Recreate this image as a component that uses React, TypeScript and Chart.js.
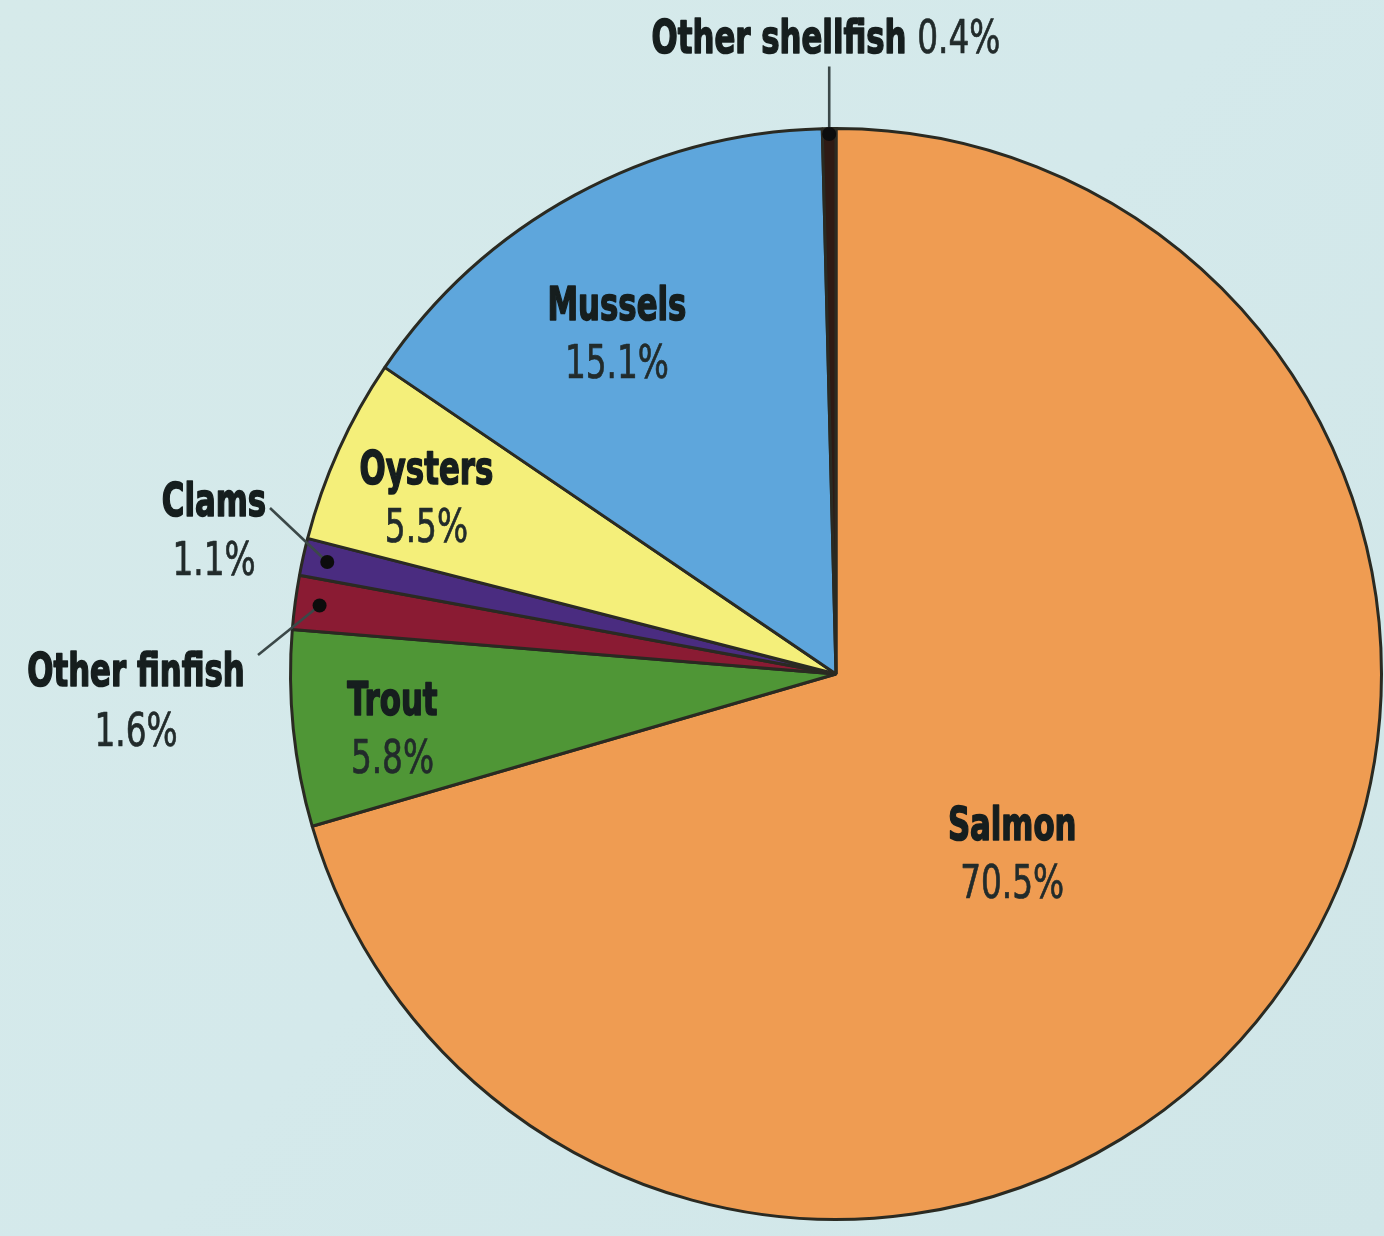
import React, { useEffect, useRef } from "react";
import { Chart, registerables } from "chart.js";

Chart.register(...registerables);

// Share of aquaculture production by species group (%)
const categories = ["Salmon", "Trout", "Other finfish", "Clams", "Oysters", "Mussels", "Other shellfish"];
const shares = [70.5, 5.8, 1.6, 1.1, 5.5, 15.1, 0.4];
const sliceColors = ["#EF9C52", "#4F9636", "#8A1B33", "#4A2C80", "#F4EF7A", "#5EA6DC", "#2E1A14"];

const W = 1384;
const H = 1236;
const INK = "#161e1e";
const PCT_INK = "#222b2b";

const fmtPct = (v: number) => `${v.toFixed(1)}%`;

// Draw a condensed line of text (horizontally squeezed), optionally thickened
function condensedText(
  ctx: CanvasRenderingContext2D,
  text: string,
  x: number,
  y: number,
  font: string,
  squeeze: number,
  weightStroke: number,
  align: "center" | "left" = "center"
) {
  ctx.save();
  ctx.font = font;
  ctx.textAlign = align;
  ctx.textBaseline = "middle";
  ctx.translate(x, y);
  ctx.scale(squeeze, 1);
  ctx.fillText(text, 0, 0);
  if (weightStroke > 0) {
    ctx.strokeStyle = ctx.fillStyle as string;
    ctx.lineWidth = weightStroke;
    ctx.lineJoin = "round";
    ctx.strokeText(text, 0, 0);
  }
  ctx.restore();
}

const BOLD = "bold 47px 'Liberation Sans Narrow', 'DejaVu Sans Condensed', 'Liberation Sans', sans-serif";
const REG = "47px 'Liberation Sans Narrow', 'DejaVu Sans Condensed', 'Liberation Sans', sans-serif";
const BOLD_STROKE = 1.6;
const REG_STROKE = 0.7;

// Inside labels: radius fraction and angular nudge (degrees) from slice mid-angle
const insideLabels: { idx: number; frac: number; nudge: number }[] = [
  { idx: 0, frac: 0.465, nudge: 9.1 },
  { idx: 1, frac: 0.82, nudge: -1.7 },
  { idx: 4, frac: 0.815, nudge: -1.4 },
  { idx: 5, frac: 0.737, nudge: -4.4 },
];

const labelPlugin = {
  id: "sliceLabels",
  afterDatasetsDraw(chart: any) {
    const ctx: CanvasRenderingContext2D = chart.ctx;
    const meta = chart.getDatasetMeta(0);
    const arcs = meta.data;
    const first = arcs[0];
    const cx = first.x;
    const cy = first.y;
    const r = first.outerRadius;

    ctx.save();
    ctx.font = BOLD;
    const boldSqueeze = 139 / ctx.measureText("Mussels").width;
    ctx.font = REG;
    const regSqueeze = 104 / ctx.measureText("15.1%").width;

    const lineGap = 29;

    insideLabels.forEach(({ idx, frac, nudge }) => {
      const a = arcs[idx];
      const mid = (a.startAngle + a.endAngle) / 2 + (nudge * Math.PI) / 180;
      const x = cx + Math.cos(mid) * r * frac;
      const y = cy + Math.sin(mid) * r * frac;
      ctx.fillStyle = INK;
      condensedText(ctx, categories[idx], x, y - lineGap, BOLD, boldSqueeze, BOLD_STROKE);
      ctx.fillStyle = PCT_INK;
      condensedText(ctx, fmtPct(shares[idx]), x, y + lineGap, REG, regSqueeze, REG_STROKE);
    });

    const dotAt = (idx: number, frac: number) => {
      const a = arcs[idx];
      const mid = (a.startAngle + a.endAngle) / 2;
      return { x: cx + Math.cos(mid) * r * frac, y: cy + Math.sin(mid) * r * frac };
    };

    const leader = (x1: number, y1: number, x2: number, y2: number) => {
      ctx.strokeStyle = "#3b4848";
      ctx.lineWidth = 2.6;
      ctx.beginPath();
      ctx.moveTo(x1, y1);
      ctx.lineTo(x2, y2);
      ctx.stroke();
    };
    const dot = (p: { x: number; y: number }) => {
      ctx.fillStyle = "#0c0c0c";
      ctx.beginPath();
      ctx.arc(p.x, p.y, 7, 0, Math.PI * 2);
      ctx.fill();
    };

    // Clams
    const clamDot = dotAt(3, 0.955);
    leader(cx - 566, cy - 166, clamDot.x, clamDot.y);
    dot(clamDot);
    ctx.fillStyle = INK;
    condensedText(ctx, categories[3], cx - 622, cy - 170, BOLD, boldSqueeze, BOLD_STROKE);
    ctx.fillStyle = PCT_INK;
    condensedText(ctx, fmtPct(shares[3]), cx - 622, cy - 111, REG, regSqueeze, REG_STROKE);

    // Other finfish
    const finDot = dotAt(2, 0.955);
    leader(cx - 578, cy - 19, finDot.x, finDot.y);
    dot(finDot);
    ctx.fillStyle = INK;
    condensedText(ctx, categories[2], cx - 700, cy, BOLD, boldSqueeze, BOLD_STROKE);
    ctx.fillStyle = PCT_INK;
    condensedText(ctx, fmtPct(shares[2]), cx - 700, cy + 60, REG, regSqueeze, REG_STROKE);

    // Other shellfish
    const shDot = dotAt(6, 0.99);
    leader(shDot.x, cy - r - 62, shDot.x, shDot.y);
    dot(shDot);
    ctx.font = BOLD;
    const nameW = ctx.measureText(categories[6] + " ").width * boldSqueeze;
    ctx.font = REG;
    const pctW = ctx.measureText(fmtPct(shares[6])).width * regSqueeze;
    const total = nameW + pctW;
    const left = cx - 10 - total / 2;
    const ty = cy - r - 88;
    ctx.fillStyle = INK;
    condensedText(ctx, categories[6], left, ty, BOLD, boldSqueeze, BOLD_STROKE, "left");
    ctx.fillStyle = PCT_INK;
    condensedText(ctx, fmtPct(shares[6]), left + nameW, ty, REG, regSqueeze, REG_STROKE, "left");

    ctx.restore();
  },
};

const paperPlugin = {
  id: "paper",
  beforeDraw(chart: any) {
    const ctx: CanvasRenderingContext2D = chart.ctx;
    ctx.save();
    const g = ctx.createLinearGradient(0, 0, W, H);
    g.addColorStop(0, "#d6eaea");
    g.addColorStop(0.5, "#d4e9eb");
    g.addColorStop(1, "#d0e6e8");
    ctx.fillStyle = g;
    ctx.fillRect(0, 0, W, H);
    ctx.restore();
  },
};

export default function App() {
  const ref = useRef<HTMLCanvasElement | null>(null);

  useEffect(() => {
    document.body.style.margin = "0";
    const canvas = ref.current;
    if (!canvas) return;
    const chart = new Chart(canvas, {
      type: "pie",
      data: {
        labels: categories,
        datasets: [
          {
            data: shares,
            backgroundColor: sliceColors,
            borderColor: "#2a2a22",
            borderWidth: 3,
          },
        ],
      },
      options: {
        responsive: false,
        animation: false,
        layout: { padding: { left: 289, top: 127, right: 1, bottom: 15 } },
        plugins: {
          legend: { display: false },
          tooltip: { enabled: false },
        },
      },
      plugins: [paperPlugin, labelPlugin],
    });
    return () => chart.destroy();
  }, []);

  return <canvas ref={ref} width={W} height={H} style={{ display: "block" }} />;
}
